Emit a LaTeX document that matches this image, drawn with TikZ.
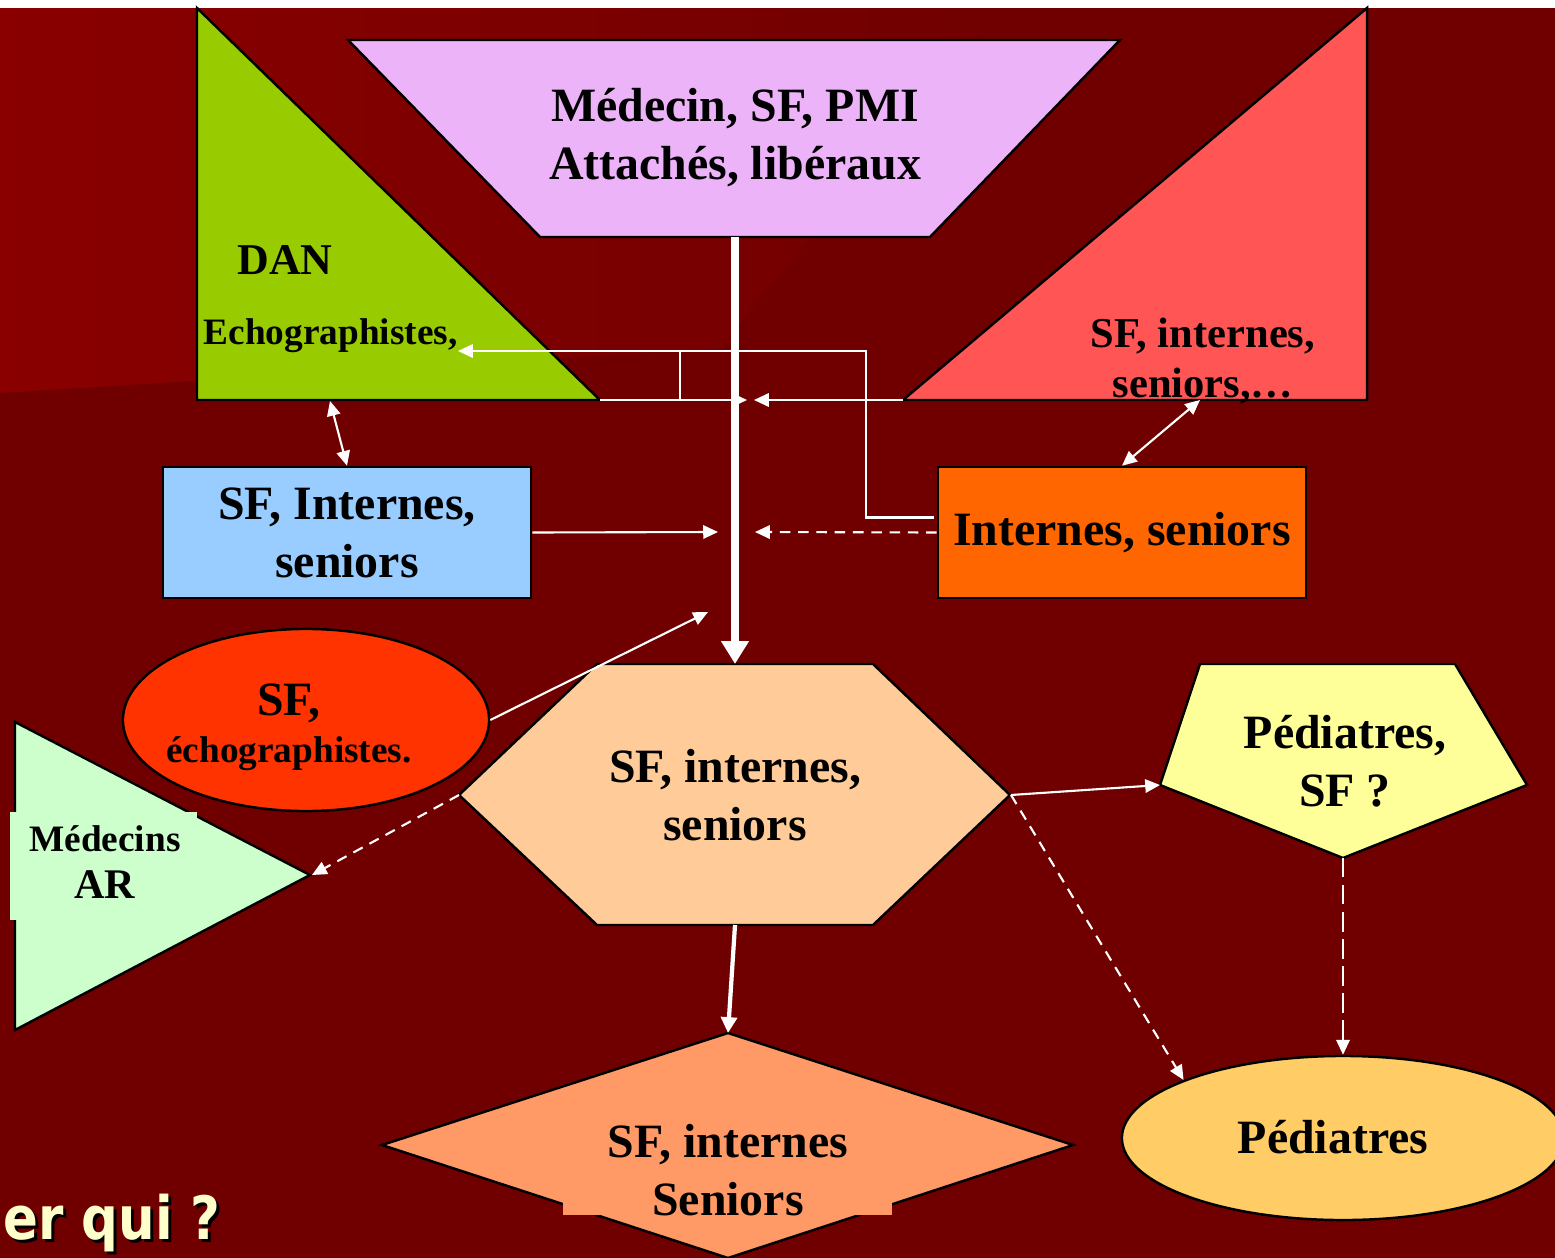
\documentclass[tikz,border=0pt]{standalone}
\usepackage{fontspec}
\setmainfont{Liberation Serif}
\newfontfamily\titlesans[FakeStretch=0.86]{DejaVu Sans}
\usepackage{tikz}
\usetikzlibrary{shapes.geometric,arrows.meta,positioning,calc}
\definecolor{BgDark}{HTML}{700000}
\definecolor{BgLight}{HTML}{8A0000}
\definecolor{DanGreen}{HTML}{99CC00}
\definecolor{TopLilac}{HTML}{ECB3F9}
\definecolor{TriRed}{HTML}{FF5555}
\definecolor{BoxBlue}{HTML}{99CCFF}
\definecolor{BoxOrange}{HTML}{FF6600}
\definecolor{EllRed}{HTML}{FF3300}
\definecolor{TriMint}{HTML}{CCFFCC}
\definecolor{HexPeach}{HTML}{FFCC99}
\definecolor{PentYellow}{HTML}{FFFF99}
\definecolor{EllGold}{HTML}{FFCC66}
\definecolor{DiaSalmon}{HTML}{FF9966}
\definecolor{TitleCream}{HTML}{FFFFCC}
\tikzset{
  shapeline/.style={draw=black,line width=0.7pt,line join=miter},
  boxnode/.style={rectangle,shapeline,inner sep=0pt,minimum width=3.68cm,minimum height=1.31cm},
  ellnode/.style={ellipse,shapeline,inner sep=0pt},
  bigtext/.style={font=\fontsize{13.6pt}{16.5pt}\selectfont\bfseries,align=center,inner sep=0pt},
  smalltext/.style={font=\fontsize{10.6pt}{13.4pt}\selectfont\bfseries,align=center,inner sep=0pt},
  redtext/.style={font=\fontsize{12.1pt}{14pt}\selectfont\bfseries,align=center,inner sep=0pt},
  dantext/.style={font=\fontsize{12.5pt}{15pt}\selectfont\bfseries,inner sep=0pt},
  titletext/.style={font=\fontsize{17pt}{20pt}\selectfont\titlesans\bfseries,inner sep=0pt},
  wline/.style={draw=white,line width=0.6pt},
  warrow/.style={wline,-{Triangle[length=4.2pt,width=3.8pt]}},
  wboth/.style={wline,{Triangle[length=4.2pt,width=3.8pt]}-{Triangle[length=4.2pt,width=3.8pt]}},
  wdash/.style={warrow,dash pattern=on 3pt off 2.2pt},
  wlongdash/.style={warrow,dash pattern=on 5.5pt off 2.2pt},
  mainflow/.style={draw=white,line width=2.2pt,-{Triangle[length=6.5pt,width=7.5pt]}},
  subflow/.style={draw=white,line width=1.2pt,-{Triangle[length=4.5pt,width=4.5pt]}},
}
\begin{document}
\begin{tikzpicture}[x=0.01cm, y=-0.01cm]
  \useasboundingbox (0,0) rectangle (1555,1258);
  % ── Background ──
  \fill[BgDark] (0,0) rectangle (1555,1258);
  \shade[left color=BgLight, right color=BgDark] (0,8) -- (1000,8) -- (720,348) -- (0,393) -- cycle;
  \fill[white] (0,0) rectangle (1555,8);

  % ── Top row ──
  \draw[shapeline, fill=DanGreen] (197,8) -- (600,400) -- (197,400) -- cycle;
  \draw[shapeline, fill=TriRed] (1367,8) -- (1367,400) -- (903,400) -- cycle;
  \draw[shapeline, fill=TopLilac] (348,40) -- (1120,40) -- (930,237) -- (540,237) -- cycle;

  \node[bigtext] (medtop) at (735,137.5) {Médecin, SF, PMI\\Attachés, libéraux};
  \node[dantext] (dan) at (285,260) {DAN};
  \node[smalltext, anchor=west] (echo) at (203,336) {Echographistes,};
  \node[redtext] (sfint) at (1203,361) {SF, internes,\\seniors,…};

  % ── Middle row ──
  \node[boxnode, fill=BoxBlue, bigtext] (sfbox) at (347,532.5) {SF, Internes,\\seniors};
  \node[boxnode, fill=BoxOrange, bigtext] (intbox) at (1122,532.5) {Internes, seniors};

  \node[ellnode, fill=EllRed, minimum width=3.66cm, minimum height=1.82cm] (sfell) at (306,720) {};
  \node[smalltext] (sfecho) at (289,727) {\fontsize{13.6pt}{16.5pt}\selectfont SF,\\\fontsize{10.6pt}{13.4pt}\selectfont échographistes.};

  \draw[shapeline, fill=TriMint] (15,722) -- (310,875) -- (15,1030) -- cycle;
  \fill[TriMint] (10,812) rectangle (197,920);
  \node[smalltext] (medar) at (105,862) {Médecins\\\fontsize{12pt}{14.8pt}\selectfont AR};

  \draw[shapeline, fill=HexPeach] (597,664) -- (873,664) -- (1010,795) -- (873,925) -- (597,925) -- (459,795) -- cycle;
  \node[bigtext] (hextext) at (735,795) {SF, internes,\\seniors};

  \draw[shapeline, fill=PentYellow] (1200,664) -- (1455,664) -- (1527,785) -- (1343,858) -- (1160,785) -- cycle;
  \node[bigtext] (pedsf) at (1345,761) {Pédiatres,\\SF ?};

  % ── Bottom row ──
  \draw[shapeline, fill=DiaSalmon] (728,1033) -- (1073,1145) -- (728,1258) -- (382,1145) -- cycle;
  \fill[DiaSalmon] (563,1110) rectangle (892,1215);
  \node[bigtext] (diatext) at (728,1170) {SF, internes\\Seniors};

  \node[ellnode, fill=EllGold, minimum width=4.42cm, minimum height=1.64cm] (pedell) at (1343,1138) {};
  \node[bigtext] (pedtext) at (1333,1137) {Pédiatres};

  \node[titletext, text=black, anchor=base west] (quishadow) at (6,1242) {er qui ?};
  \node[titletext, text=TitleCream, anchor=base west] (qui) at (3,1239) {er qui ?};

  % ── Anchor points ──
  \coordinate (trapB) at (735,237);
  \coordinate (hexT) at (735,664);
  \coordinate (hexB) at (735,925);
  \coordinate (hexL) at (459,795);
  \coordinate (hexR) at (1011,795);
  \coordinate (diaT) at (728,1033);
  \coordinate (pentL) at (1160,785);
  \coordinate (pentB) at (1343,858);
  \coordinate (mintR) at (312,875);
  \coordinate (danB) at (330,401);
  \coordinate (danBR) at (600,400);
  \coordinate (redB) at (1200,400);
  \coordinate (redBL) at (903,400);
  \coordinate (echoIn) at (458,351);
  \coordinate (loopTop) at (866,351);
  \coordinate (branchT) at (680,351);
  \coordinate (branchB) at (680,400);
  \coordinate (flowG) at (747,400);
  \coordinate (flowR) at (754,400);
  \coordinate (flowL) at (718,532);
  \coordinate (flowRd) at (755,532);
  \coordinate (flowE) at (708,612);

  % ── Connectors ──
  \draw[wboth] (danB) -- (sfbox.north);
  \draw[wboth] (redB) -- (intbox.north);
  \draw[warrow] ($(intbox.west)+(-3,-15)$) -| (loopTop) -- (echoIn);
  \draw[wline] (branchT) -- (branchB);
  \draw[warrow] (danBR) -- (flowG);
  \draw[warrow] (redBL) -- (flowR);
  \draw[warrow] (sfbox.east) -- (flowL);
  \draw[wdash] (intbox.west) -- (flowRd);
  \draw[warrow] (sfell.east) -- (flowE);
  \draw[mainflow] (trapB) -- (hexT);
  \draw[subflow] (hexB) -- (diaT);
  \draw[wdash] (hexL) -- (mintR);
  \draw[warrow] (hexR) -- (pentL);
  \draw[wdash] (hexR) -- (pedell.160);
  \draw[wlongdash] (pentB) -- (pedell.north);
\end{tikzpicture}
\end{document}
